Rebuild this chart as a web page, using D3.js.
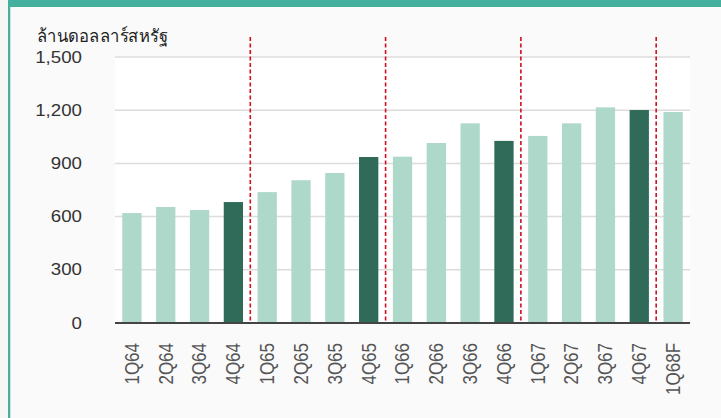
<!DOCTYPE html>
<html>
<head>
<meta charset="utf-8">
<script src="https://cdn.jsdelivr.net/npm/d3@7"></script>
<style>
  body { margin: 0; background: #f6f6f6; }
  svg { display: block; }
</style>
</head>
<body>
<div id="chart"></div>
<script>
// Chart data
const quarters = ['1Q64', '2Q64', '3Q64', '4Q64', '1Q65', '2Q65', '3Q65', '4Q65',
    '1Q66', '2Q66', '3Q66', '4Q66', '1Q67', '2Q67', '3Q67', '4Q67', '1Q68F'];
const values = [620, 654, 637, 682, 738, 805, 846, 936,
    938, 1015, 1126, 1027, 1055, 1126, 1216, 1201, 1190];
const yTicks = [0, 300, 600, 900, 1200, 1500];
const yearBreaks = ['1Q65', '1Q66', '1Q67', '1Q68F'];
const unitLabel = 'ล้านดอลลาร์สหรัฐ';

const svgWidth = 721;
const svgHeight = 418;

const chartMargin = { top: 57, right: 31, bottom: 95, left: 115 };
const chartWidth = svgWidth - chartMargin.left - chartMargin.right;
const chartHeight = svgHeight - chartMargin.top - chartMargin.bottom;

const svg = d3.select('#chart')
    .append('svg')
    .attr('width', svgWidth)
    .attr('height', svgHeight);

// Page frame: light background, teal top band and left rule
svg.append('rect')
    .attr('width', svgWidth).attr('height', svgHeight)
    .attr('fill', '#f6f6f6');
svg.append('rect')
    .attr('x', 8).attr('y', 0)
    .attr('width', svgWidth - 8).attr('height', 7)
    .attr('fill', '#45b09d');
svg.append('rect')
    .attr('x', 8).attr('y', 0)
    .attr('width', 2.5).attr('height', svgHeight)
    .attr('fill', '#45b09d');
svg.append('rect')
    .attr('x', 10.5).attr('y', 7)
    .attr('width', svgWidth - 10.5).attr('height', svgHeight - 7)
    .attr('fill', '#fafafa');

const chartGroup = svg.append('g')
    .attr('transform', `translate(${chartMargin.left}, ${chartMargin.top})`);

// Plot area is white
chartGroup.append('rect')
    .attr('width', chartWidth)
    .attr('height', chartHeight)
    .attr('fill', '#ffffff');

const xScale = d3.scaleBand()
    .domain(quarters)
    .range([0, chartWidth])
    .paddingInner(0.43)
    .paddingOuter(0.215);

const yScale = d3.scaleLinear()
    .domain([0, 1500])
    .range([chartHeight, 0]);

// Gridlines
chartGroup.append('g')
    .selectAll('line')
    .data(yTicks.slice(1))
    .enter()
    .append('line')
    .attr('x1', 0).attr('x2', chartWidth)
    .attr('y1', d => yScale(d)).attr('y2', d => yScale(d))
    .attr('stroke', '#dcdcdc')
    .attr('stroke-width', 1.5);

// Y axis labels
const yAxis = d3.axisLeft(yScale)
    .tickValues(yTicks)
    .tickFormat(d3.format(','))
    .tickSize(0)
    .tickPadding(0);
const yAxisGroup = chartGroup.append('g')
    .attr('transform', `translate(-33, 0)`)
    .call(yAxis);
yAxisGroup.select('.domain').remove();
yAxisGroup.selectAll('text')
    .attr('font-family', 'Liberation Sans, Arial, sans-serif')
    .attr('font-size', 17)
    .attr('fill', '#333')
    .attr('dy', '0.3em')
    .attr('transform', 'scale(1.1, 1)');

// Bars
chartGroup.selectAll('.bar')
    .data(quarters)
    .enter()
    .append('rect')
    .attr('class', 'bar')
    .attr('x', d => xScale(d))
    .attr('y', (d, i) => yScale(values[i]))
    .attr('width', xScale.bandwidth())
    .attr('height', (d, i) => chartHeight - yScale(values[i]))
    .attr('fill', d => d.startsWith('4Q') ? '#306a58' : '#aed8ca');

// Year separators (red dashed)
const step = xScale.step();
chartGroup.selectAll('.year-break')
    .data(yearBreaks)
    .enter()
    .append('line')
    .attr('class', 'year-break')
    .attr('x1', d => xScale(d) - (step - xScale.bandwidth()) / 2)
    .attr('x2', d => xScale(d) - (step - xScale.bandwidth()) / 2)
    .attr('y1', -20)
    .attr('y2', chartHeight)
    .attr('stroke', '#d0101e')
    .attr('stroke-width', 1.6)
    .attr('stroke-dasharray', '4,2.5');

// X axis line
chartGroup.append('line')
    .attr('x1', 0).attr('x2', chartWidth)
    .attr('y1', chartHeight).attr('y2', chartHeight)
    .attr('stroke', '#444')
    .attr('stroke-width', 2);

// X labels, rotated
chartGroup.selectAll('.x-label')
    .data(quarters)
    .enter()
    .append('text')
    .attr('class', 'x-label')
    .attr('transform', d => `translate(${xScale(d) + xScale.bandwidth() / 2}, ${chartHeight + 20}) scale(1.15, 1) rotate(-90)`)
    .attr('text-anchor', 'end')
    .attr('dy', '0.35em')
    .attr('font-family', 'Liberation Sans, Arial, sans-serif')
    .attr('font-size', 17)
    .attr('fill', '#555')
    .text(d => d);

// Unit label
svg.append('text')
    .attr('x', 37)
    .attr('y', 42)
    .attr('font-family', 'Noto Sans, Liberation Sans, sans-serif')
    .attr('font-size', 17.5)
    .attr('fill', '#222')
    .attr('textLength', 131)
    .attr('lengthAdjust', 'spacingAndGlyphs')
    .text(unitLabel);
</script>
</body>
</html>
